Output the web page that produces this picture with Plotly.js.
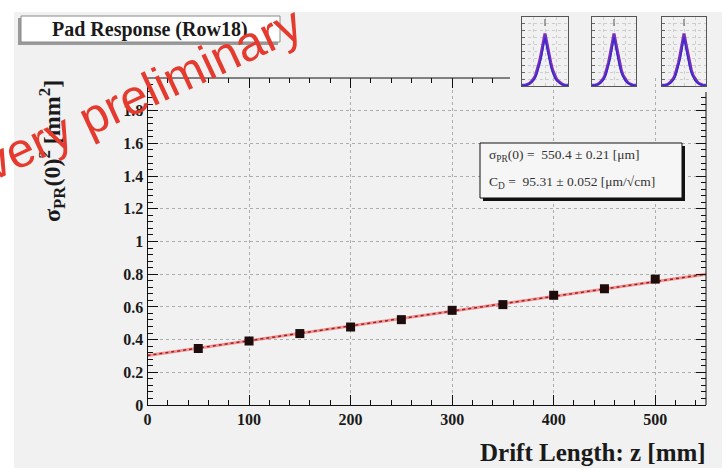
<!DOCTYPE html>
<html>
<head>
<meta charset="utf-8">
<script src="https://cdn.plot.ly/plotly-3.0.1.min.js"></script>
<style>html,body{margin:0;padding:0;background:#fff;}#chart{width:727px;height:473px;}</style>
</head>
<body>
<div id="chart"></div>
<script>
// ---- data ----
const driftZ = [50, 100, 150, 200, 250, 300, 350, 400, 450, 500];
const sigmaSq = [0.346, 0.392, 0.437, 0.477, 0.522, 0.579, 0.614, 0.671, 0.711, 0.770];
const fitZ = [0, 550];
const fitSigmaSq = [0.303, 0.800];
const xTickVals = [0, 100, 200, 300, 400, 500];
const yTickVals = [0, 0.2, 0.4, 0.6, 0.8, 1, 1.2, 1.4, 1.6, 1.8];
const yTickText = ["0", "0.2", "0.4", "0.6", "0.8", "1", "1.2", "1.4", "1.6", "1.8"];
// inset pad-response shapes
const insetX = [-1.2,-1.1,-1.0,-0.9,-0.8,-0.7,-0.6,-0.5,-0.4,-0.3,-0.2,-0.1,0,0.1,0.2,0.3,0.4,0.5,0.6,0.7,0.8,0.9,1.0,1.1,1.2];
const insetOuter = [0.01,0.01,0.015,0.025,0.04,0.07,0.10,0.15,0.23,0.34,0.47,0.62,0.76,0.62,0.47,0.34,0.23,0.15,0.10,0.07,0.04,0.025,0.015,0.01,0.01];
const insetInner = [0.005,0.005,0.01,0.02,0.03,0.05,0.08,0.12,0.19,0.28,0.40,0.55,0.70,0.55,0.40,0.28,0.19,0.12,0.08,0.05,0.03,0.02,0.01,0.005,0.005];
const insetMarkX = [0];
const insetMarkY = [0.92];

// ---- layout helpers (pixel -> paper) ----
const W = 727, H = 473;
const px = v => v / W;
const py = v => 1 - v / H;
const serif = "Liberation Serif, Times New Roman, serif";

const traces = [];
// fit line
traces.push({x: fitZ, y: fitSigmaSq, mode: 'lines', line: {color: 'rgba(232,120,120,0.75)', width: 3}, hoverinfo: 'skip'});
traces.push({x: fitZ, y: fitSigmaSq, mode: 'lines', line: {color: '#b01818', width: 1.5, dash: 'dot'}, hoverinfo: 'skip'});
// data points
traces.push({x: driftZ, y: sigmaSq, mode: 'markers', marker: {symbol: 'square', size: 9, color: '#1e0c0c'}});
// dummy traces for mirrored tick axes
traces.push({x: [null], y: [null], xaxis: 'x5', yaxis: 'y', mode: 'markers', hoverinfo: 'skip'});
traces.push({x: [null], y: [null], xaxis: 'x', yaxis: 'y5', mode: 'markers', hoverinfo: 'skip'});

const gridDash = '3px,3px';
const insetDomX = [[522, 568], [592, 636], [662, 706]];
const insetDomY = [py(86), py(17)];
const layout = {
  width: W, height: H,
  margin: {l: 0, r: 0, t: 0, b: 0},
  paper_bgcolor: '#ffffff',
  plot_bgcolor: 'rgba(0,0,0,0)',
  showlegend: false,
  xaxis: {
    domain: [px(147.5), px(706)], range: [0, 550], tickmode: 'array', tickvals: xTickVals,
    ticks: 'inside', ticklen: 10, tickcolor: '#111', showline: true, linecolor: '#111', linewidth: 1,
    showgrid: true, gridcolor: '#adadad', griddash: gridDash, gridwidth: 1, zeroline: false,
    minor: {tickmode: 'linear', tick0: 0, dtick: 20, ticks: 'inside', ticklen: 5, tickcolor: '#111', showgrid: false},
    tickfont: {family: serif, size: 16, color: '#1a1a1a', weight: 'bold'}, anchor: 'y', fixedrange: true
  },
  yaxis: {
    domain: [py(405), py(78)], range: [0, 2], tickmode: 'array', tickvals: yTickVals, ticktext: yTickText,
    ticks: 'inside', ticklen: 10, tickcolor: '#111', showline: true, linecolor: '#111', linewidth: 1,
    showgrid: true, gridcolor: '#adadad', griddash: gridDash, gridwidth: 1, zeroline: false,
    minor: {tickmode: 'linear', tick0: 0, dtick: 0.04, ticks: 'inside', ticklen: 5, tickcolor: '#111', showgrid: false},
    tickfont: {family: serif, size: 16, color: '#1a1a1a', weight: 'bold'}, anchor: 'x', fixedrange: true
  },
  xaxis5: {
    overlaying: 'x', side: 'top', anchor: 'y', range: [0, 550], tickmode: 'array', tickvals: [0, 100, 200, 300],
    ticks: 'inside', ticklen: 10, tickcolor: '#111', showticklabels: false, showline: false, showgrid: false, zeroline: false,
    minor: {tickmode: 'array', tickvals: [20,40,60,80,120,140,160,180,220,240,260,280,320,340], ticks: 'inside', ticklen: 5, tickcolor: '#111', showgrid: false}
  },
  yaxis5: {
    overlaying: 'y', side: 'right', anchor: 'x', range: [0, 2], tickmode: 'array', tickvals: yTickVals,
    ticks: 'inside', ticklen: 10, tickcolor: '#111', showticklabels: false, showline: false, showgrid: false, zeroline: false,
    minor: {tickmode: 'array', tickvals: [0.04,0.08,0.12,0.16,0.24,0.28,0.32,0.36,0.44,0.48,0.52,0.56,0.64,0.68,0.72,0.76,0.84,0.88,0.92,0.96,1.04,1.08,1.12,1.16,1.24,1.28,1.32,1.36,1.44,1.48,1.52,1.56,1.64,1.68,1.72,1.76,1.84,1.88], ticks: 'inside', ticklen: 5, tickcolor: '#111', showgrid: false}
  },
  shapes: [
    {type: 'rect', xref: 'paper', yref: 'paper', x0: px(14), x1: px(722), y0: py(468), y1: py(12), fillcolor: '#f1f1f1', line: {width: 0}, layer: 'below'},
    // frame lines (top/right partly hidden by inset pads)
    {type: 'line', xref: 'paper', yref: 'paper', x0: px(147.5), x1: px(510), y0: py(78), y1: py(78), line: {color: '#111', width: 1}},
    {type: 'line', xref: 'paper', yref: 'paper', x0: px(706), x1: px(706), y0: py(92), y1: py(405), line: {color: '#111', width: 1}},
    // title box
    {type: 'rect', xref: 'paper', yref: 'paper', x0: px(18), x1: px(278), y0: py(45), y1: py(18), fillcolor: '#9a9a9a', line: {width: 0}},
    {type: 'rect', xref: 'paper', yref: 'paper', x0: px(21), x1: px(280), y0: py(42), y1: py(16), fillcolor: '#ffffff', line: {color: '#8a8a8a', width: 1}},
    // stats box
    {type: 'rect', xref: 'paper', yref: 'paper', x0: px(483), x1: px(685), y0: py(201), y1: py(146), fillcolor: '#111111', line: {width: 0}},
    {type: 'rect', xref: 'paper', yref: 'paper', x0: px(480), x1: px(682), y0: py(198), y1: py(143), fillcolor: '#f6f6f6', line: {color: '#111', width: 1}}
  ],
  annotations: [
    {xref: 'paper', yref: 'paper', x: px(150), y: py(29.5), xanchor: 'center', yanchor: 'middle', showarrow: false,
     text: 'Pad Response (Row18)', font: {family: serif, size: 20, color: '#1a1a1a', weight: 'bold'}},
    {xref: 'paper', yref: 'paper', x: px(487), y: py(156), xanchor: 'left', yanchor: 'middle', showarrow: false,
     text: 'σ<sub>PR</sub>(0) =  550.4 ± 0.21 [μm]', font: {family: serif, size: 13.5, color: '#333'}},
    {xref: 'paper', yref: 'paper', x: px(487), y: py(182), xanchor: 'left', yanchor: 'middle', showarrow: false,
     text: 'C<sub>D</sub> =  95.31 ± 0.052 [μm/√cm]', font: {family: serif, size: 13.5, color: '#333'}},
    {xref: 'paper', yref: 'paper', x: px(708), y: py(452), xanchor: 'right', yanchor: 'middle', showarrow: false,
     text: 'Drift Length: z [mm]', font: {family: serif, size: 25, color: '#1a1a1a', weight: 'bold'}},
    {xref: 'paper', yref: 'paper', x: px(52), y: py(151), xanchor: 'center', yanchor: 'middle', showarrow: false, textangle: -90,
     text: 'σ<sub>PR</sub>(0)<sup>2</sup> [mm<sup>2</sup>]', font: {family: serif, size: 24, color: '#1a1a1a', weight: 'bold'}},
    {xref: 'paper', yref: 'paper', x: px(142), y: py(93), xanchor: 'center', yanchor: 'middle', showarrow: false, textangle: -25,
     text: 'very preliminary', font: {family: 'Liberation Sans, Arial, sans-serif', size: 49, color: '#e53a2e'}}
  ]
};

insetDomX.forEach((d, i) => {
  const n = i + 2;
  layout['xaxis' + n] = {domain: [px(d[0]), px(d[1])], range: [-1.2, 1.2], anchor: 'y' + n,
    showline: true, mirror: true, linecolor: '#555', linewidth: 1, ticks: '', showticklabels: false,
    showgrid: true, gridcolor: '#cdcdcd', griddash: 'dot', dtick: 0.6, tick0: 0, zeroline: false, fixedrange: true};
  layout['yaxis' + n] = {domain: insetDomY, range: [0, 1.0], anchor: 'x' + n,
    showline: true, mirror: true, linecolor: '#555', linewidth: 1, ticks: 'inside', ticklen: 3, tickcolor: '#666',
    showticklabels: false, showgrid: true, gridcolor: '#cdcdcd', griddash: 'dot', dtick: 0.1, zeroline: false, fixedrange: true};
  traces.push({x: insetX, y: insetOuter, xaxis: 'x' + n, yaxis: 'y' + n, mode: 'lines', line: {color: '#7a2fb8', width: 3}, hoverinfo: 'skip'});
  traces.push({x: insetX, y: insetInner, xaxis: 'x' + n, yaxis: 'y' + n, mode: 'lines', line: {color: '#3a2ad0', width: 1.5}, hoverinfo: 'skip'});
  traces.push({x: insetMarkX, y: insetMarkY, xaxis: 'x' + n, yaxis: 'y' + n, mode: 'markers', marker: {symbol: 'line-ns', size: 5, line: {color: '#555', width: 1}}, hoverinfo: 'skip'});
});

Plotly.newPlot('chart', traces, layout, {staticPlot: true, displayModeBar: false});
</script>
</body>
</html>
